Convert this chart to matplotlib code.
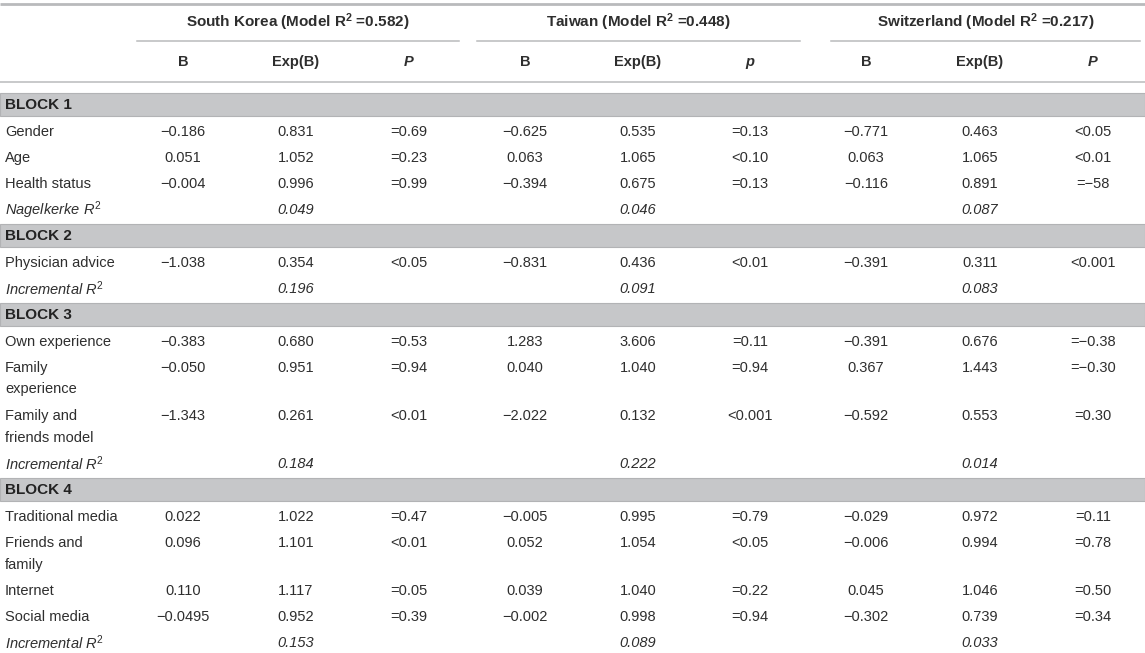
import matplotlib
matplotlib.use("Agg")
import matplotlib.pyplot as plt

plt.rcParams["mathtext.fontset"] = "custom"
plt.rcParams["mathtext.rm"] = "Liberation Sans"
plt.rcParams["mathtext.it"] = "Liberation Sans:italic"
plt.rcParams["mathtext.bf"] = "Liberation Sans:bold"

# ---------------- data ----------------
countries = ["South Korea", "Taiwan", "Switzerland"]
model_r2 = ["0.582", "0.448", "0.217"]
sub_headers = ["B", "Exp(B)"]
p_headers = ["P", "p", "P"]

block_names = ["BLOCK 1", "BLOCK 2", "BLOCK 3", "BLOCK 4"]
r2_labels = ["Nagelkerke $R^2$", "Incremental $R^2$", "Incremental $R^2$", "Incremental $R^2$"]

row_labels = ["Gender", "Age", "Health status",
              "Physician advice",
              "Own experience", "Family\nexperience", "Family and\nfriends model",
              "Traditional media", "Friends and\nfamily", "Internet", "Social media"]
row_block = [0, 0, 0, 1, 2, 2, 2, 3, 3, 3, 3]

sk_B = ["−0.186", "0.051", "−0.004", "−1.038", "−0.383", "−0.050", "−1.343",
        "0.022", "0.096", "0.110", "−0.0495"]
sk_exp = ["0.831", "1.052", "0.996", "0.354", "0.680", "0.951", "0.261",
          "1.022", "1.101", "1.117", "0.952"]
sk_p = ["=0.69", "=0.23", "=0.99", "<0.05", "=0.53", "=0.94", "<0.01",
        "=0.47", "<0.01", "=0.05", "=0.39"]
sk_r2 = ["0.049", "0.196", "0.184", "0.153"]

tw_B = ["−0.625", "0.063", "−0.394", "−0.831", "1.283", "0.040", "−2.022",
        "−0.005", "0.052", "0.039", "−0.002"]
tw_exp = ["0.535", "1.065", "0.675", "0.436", "3.606", "1.040", "0.132",
          "0.995", "1.054", "1.040", "0.998"]
tw_p = ["=0.13", "<0.10", "=0.13", "<0.01", "=0.11", "=0.94", "<0.001",
        "=0.79", "<0.05", "=0.22", "=0.94"]
tw_r2 = ["0.046", "0.091", "0.222", "0.089"]

ch_B = ["−0.771", "0.063", "−0.116", "−0.391", "−0.391", "0.367", "−0.592",
        "−0.029", "−0.006", "0.045", "−0.302"]
ch_exp = ["0.463", "1.065", "0.891", "0.311", "0.676", "1.443", "0.553",
          "0.972", "0.994", "1.046", "0.739"]
ch_p = ["<0.05", "<0.01", "=−58", "<0.001", "=−0.38", "=−0.30", "=0.30",
        "=0.11", "=0.78", "=0.50", "=0.34"]
ch_r2 = ["0.087", "0.083", "0.014", "0.033"]

# ---------------- layout / style ----------------
W, H = 1145, 653
FONT = "Liberation Sans"
FS = 10.5
TXT = "#2e2e2e"
LINE = "#b9babc"
BAND = "#c6c7c9"

col_x = [[183, 296, 409], [525, 638, 750], [866, 980, 1093]]
group_span = [(137, 459), (477, 800), (831, 1140)]
label_x = 5

fig = plt.figure(figsize=(W / 100, H / 100), dpi=100)
ax = fig.add_axes([0, 0, 1, 1])
ax.set_xlim(0, W)
ax.set_ylim(H, 0)
ax.axis("off")


def t(x, y, s, ha="center", **kw):
    kw.setdefault("fontsize", FS)
    kw.setdefault("color", TXT)
    ax.text(x, y, s, ha=ha, va="center", family=FONT, **kw)


# header
ax.plot([0, W], [3.5, 3.5], color=LINE, lw=2.0, solid_capstyle="butt")
for g in range(3):
    x0, x1 = group_span[g]
    t((x0 + x1) / 2, 22.5,
      f"{countries[g]} (Model R" + r"$^{\mathbf{2}}$" + " =" + model_r2[g] + ")",
      fontweight="bold", fontsize=11)
    ax.plot([x0, x1], [41, 41], color=LINE, lw=1.1)
    t(col_x[g][0], 62, sub_headers[0], fontweight="bold")
    t(col_x[g][1], 62, sub_headers[1], fontweight="bold")
    t(col_x[g][2], 62, p_headers[g], fontweight="bold", fontstyle="italic")
ax.plot([0, W], [82, 82], color=LINE, lw=1.1)

series = [(sk_B, sk_exp, sk_p), (tw_B, tw_exp, tw_p), (ch_B, ch_exp, ch_p)]
r2s = [sk_r2, tw_r2, ch_r2]

y = 93.0
BAND_H = 23
LINE_GAP = 21.5
for b in range(len(block_names)):
    ax.add_patch(plt.Rectangle((0, y), W, BAND_H, facecolor=BAND,
                               edgecolor="#b2b3b5", lw=0.8))
    t(label_x, y + BAND_H / 2 + 0.5, block_names[b], ha="left",
      fontweight="bold", color="#222222", fontsize=11)
    ry = y + BAND_H + 16
    for i, lab in enumerate(row_labels):
        if row_block[i] != b:
            continue
        lines = lab.split("\n")
        for k, ln in enumerate(lines):
            t(label_x, ry + k * LINE_GAP, ln, ha="left")
        for g in range(3):
            Bv, Ev, Pv = series[g]
            t(col_x[g][0], ry, Bv[i])
            t(col_x[g][1], ry, Ev[i])
            t(col_x[g][2], ry, Pv[i])
        ry += 26 + (len(lines) - 1) * 22
    # R² row
    t(label_x, ry, r2_labels[b], ha="left", fontstyle="italic")
    for g in range(3):
        t(col_x[g][1], ry, r2s[g][b], fontstyle="italic")
    y = ry + 14

fig.savefig("out.png", dpi=100)
